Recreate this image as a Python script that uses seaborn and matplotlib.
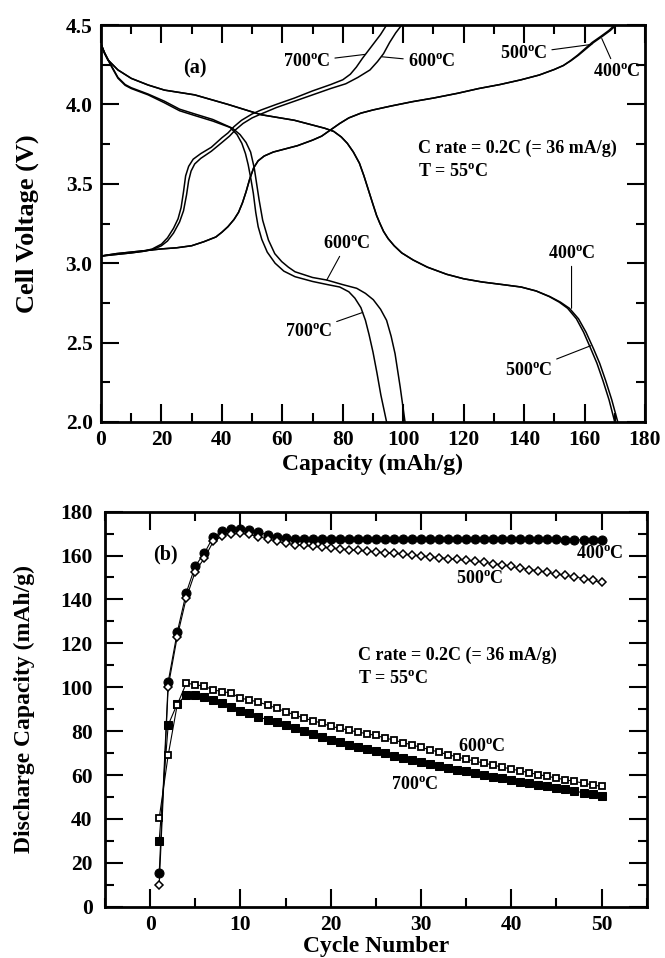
import numpy as np
import pandas as pd
import matplotlib
matplotlib.use('Agg')
import matplotlib.pyplot as plt
import seaborn as sns
from matplotlib.ticker import MultipleLocator, FormatStrFormatter

# ---------------- (a) charge / discharge curves ----------------
chg_700_cap = [0, 5, 10, 14, 17, 20, 22, 24, 25.5, 26.5, 27.3, 28, 29, 30.5, 33, 36.5, 40, 42, 44,
               46.5, 50, 53, 58, 64, 70, 76, 80, 82.5, 84.5, 86.5, 88.5, 90.5, 92.5, 94.5]
chg_700_v = [3.045, 3.055, 3.065, 3.075, 3.09, 3.12, 3.16, 3.22, 3.28, 3.35, 3.45, 3.55, 3.61, 3.655,
             3.69, 3.73, 3.79, 3.82, 3.86, 3.90, 3.94, 3.965, 4.0, 4.04, 4.085, 4.125, 4.155, 4.19,
             4.235, 4.29, 4.34, 4.39, 4.44, 4.5]

chg_600_cap = [0, 5, 10, 14, 17, 20, 22, 24, 26, 27.3, 28.3, 29, 29.8, 31, 33, 36.5, 40, 42.5, 44.5,
               47, 50, 53, 58, 64, 70, 76, 81, 85, 89, 91.5, 93.5, 95.5, 97.5, 99.5]
chg_600_v = [3.045, 3.055, 3.065, 3.075, 3.085, 3.11, 3.14, 3.19, 3.26, 3.33, 3.43, 3.52, 3.58, 3.625,
             3.66, 3.705, 3.76, 3.80, 3.84, 3.88, 3.915, 3.94, 3.98, 4.02, 4.06, 4.10, 4.13, 4.17,
             4.217, 4.27, 4.32, 4.39, 4.45, 4.5]

chg_400_cap = [0, 5, 10, 15, 20, 25, 30, 34, 38, 40, 42, 44, 45.5, 46.8, 48, 49.2, 50.5, 52, 54, 57,
               60, 65, 70, 73, 76, 79, 82, 86, 90, 96, 103, 110, 118, 125, 132, 139, 145, 150, 153,
               155.5, 158, 160.5, 163, 166, 168.5, 170.5]
chg_400_v = [3.045, 3.06, 3.07, 3.08, 3.09, 3.097, 3.11, 3.135, 3.165, 3.195, 3.23, 3.275, 3.32,
             3.38, 3.45, 3.53, 3.60, 3.645, 3.675, 3.70, 3.715, 3.74, 3.775, 3.80, 3.84, 3.88,
             3.915, 3.945, 3.965, 3.99, 4.017, 4.04, 4.07, 4.10, 4.125, 4.155, 4.185, 4.22, 4.245,
             4.275, 4.31, 4.35, 4.39, 4.43, 4.465, 4.5]

chg_500_cap = [0, 5, 10, 15, 20, 25, 30, 34, 38, 40, 42, 44, 45.5, 46.8, 48, 49.2, 50.5, 52, 54, 57,
               60, 65, 70, 73, 76, 79, 82, 86, 90, 96, 103, 110, 118, 125, 132, 139, 145, 150, 153,
               155.3, 157.7, 160.1, 162.5, 165.5, 168, 170.0]
chg_500_v = chg_400_v

dis_700_cap = [0, 1.2, 3.4, 5.6, 8, 10, 15.6, 21, 26, 31, 37, 42.7, 45, 46.6, 47.8, 48.7, 49.6, 50.4,
               51.2, 52, 53.2, 55, 57.6, 60.5, 64.2, 70, 75, 79, 82, 84, 86, 87.5, 88.7, 90, 91.3,
               92.6, 94.5]
dis_700_v = [4.38, 4.32, 4.24, 4.165, 4.12, 4.10, 4.06, 4.01, 3.96, 3.93, 3.895, 3.855, 3.81, 3.755,
             3.69, 3.62, 3.53, 3.44, 3.32, 3.23, 3.15, 3.07, 3.0, 2.95, 2.915, 2.885, 2.865, 2.85,
             2.82, 2.78, 2.72, 2.64, 2.55, 2.44, 2.31, 2.17, 2.0]

dis_600_cap = [0, 1.2, 3.4, 5.6, 8, 10, 15.6, 21, 26, 31, 37, 43.5, 46, 48, 49.5, 50.7, 51.5, 52.3,
               53.5, 55.4, 57.5, 59.8, 62, 64.2, 70, 74.7, 80, 84.6, 87.5, 90.1, 92.5, 94.5, 96,
               97.3, 99, 100.6]
dis_600_v = [4.38, 4.325, 4.245, 4.17, 4.125, 4.105, 4.065, 4.02, 3.97, 3.94, 3.905, 3.85, 3.81,
             3.76, 3.70, 3.60, 3.50, 3.40, 3.27, 3.146, 3.06, 3.01, 2.975, 2.946, 2.91, 2.894,
             2.865, 2.842, 2.81, 2.77, 2.71, 2.64, 2.54, 2.43, 2.22, 2.0]

dis_400_cap = [0, 1, 2.3, 5.6, 10, 15.6, 21, 27.7, 31, 42, 53, 64, 70, 74, 77, 79.5, 81.5, 83.5,
               85.5, 87, 88.5, 90, 91.2, 92.3, 93.5, 95, 97, 99.5, 103.3, 108, 114.4, 120, 126,
               133, 139, 144, 148.5, 152, 155, 158, 160.5, 163, 165, 167, 169, 171]
dis_400_v = [4.38, 4.33, 4.28, 4.217, 4.164, 4.122, 4.09, 4.07, 4.06, 4.0, 3.935, 3.90, 3.87, 3.85,
             3.83, 3.795, 3.755, 3.70, 3.63, 3.55, 3.46, 3.37, 3.30, 3.25, 3.20, 3.155, 3.11,
             3.065, 3.02, 2.975, 2.93, 2.902, 2.882, 2.865, 2.85, 2.825, 2.79, 2.755, 2.716, 2.65,
             2.565, 2.46, 2.37, 2.26, 2.14, 2.0]

dis_500_cap = [0, 1, 2.3, 5.6, 10, 15.6, 21, 27.7, 31, 42, 53, 64, 70, 74, 77, 79.5, 81.5, 83.5,
               85.5, 87, 88.5, 90, 91.2, 92.3, 93.5, 95, 97, 99.5, 103.3, 108, 114.4, 120, 126,
               133, 139, 144, 148.3, 151.6, 154.4, 157.3, 159.7, 162.1, 164.1, 166.1, 168.1, 170]
dis_500_v = dis_400_v

# ---------------- (b) cycling ----------------
cycles = list(range(1, 51))
cap_400 = [15.2, 102.5, 125, 143, 155.3, 161, 168.6, 171, 172, 172, 171.5, 170.5, 169.5, 168.5,
           167.9, 167.6, 167.5, 167.5, 167.6, 167.7, 167.7, 167.7, 167.7, 167.7, 167.7, 167.7,
           167.7, 167.7, 167.7, 167.7, 167.7, 167.6, 167.6, 167.6, 167.6, 167.6, 167.6, 167.6,
           167.5, 167.5, 167.5, 167.4, 167.4, 167.3, 167.3, 167.2, 167.2, 167.1, 167.0, 167.0]
cap_500 = [9.9, 100.3, 123, 140.6, 152.7, 158.8, 166.4, 169, 169.8, 170.2, 169.6, 168.6, 167.6,
           166.5, 165.6, 165.0, 164.6, 164.2, 163.8, 163.4, 163.0, 162.7, 162.3, 162.0, 161.6,
           161.3, 161.0, 160.6, 160.2, 159.8, 159.4, 159.0, 158.6, 158.2, 157.8, 157.4, 157.0,
           156.2, 155.8, 155.0, 154.3, 153.6, 153.0, 152.3, 151.6, 151.0, 150.3, 149.5, 148.7,
           147.8]
cap_600 = [40.3, 69.1, 92, 101.8, 101.2, 100.4, 98.8, 98, 97.3, 95, 94.2, 93.2, 91.9, 90.4, 88.9,
           87.4, 85.9, 84.8, 83.6, 82.2, 81.3, 80.4, 79.6, 78.8, 78.0, 76.9, 75.9, 74.8, 73.7,
           72.6, 71.5, 70.4, 69.3, 68.2, 67.2, 66.3, 65.4, 64.5, 63.6, 62.7, 61.9, 61.0, 60.2,
           59.4, 58.6, 57.8, 57.1, 56.3, 55.5, 54.8]
cap_700 = [30.1, 82.8, 92.4, 96.5, 96.6, 95.7, 94.2, 92.7, 90.9, 89.3, 88.1, 86.6, 85.1, 84.0,
           82.8, 81.4, 80.1, 78.8, 77.4, 76.0, 74.9, 73.8, 72.8, 71.8, 70.8, 69.8, 68.8, 67.9,
           67.0, 66.1, 65.2, 64.3, 63.4, 62.5, 61.7, 60.9, 60.1, 59.3, 58.5, 57.7, 56.9, 56.2,
           55.5, 54.8, 54.1, 53.4, 52.7, 51.9, 51.2, 50.4]

# ---------------- style ----------------
sns.set_theme(style='ticks')
plt.rcParams.update({
    'font.family': ['Liberation Serif', 'DejaVu Serif'],
    'font.weight': 'bold',
    'axes.labelweight': 'bold',
    'mathtext.fontset': 'custom',
    'mathtext.rm': 'Liberation Serif:bold',
    'mathtext.bf': 'Liberation Serif:bold',
    'mathtext.it': 'Liberation Serif:bold:italic',
    'axes.edgecolor': 'black',
    'axes.linewidth': 2.0,
    'xtick.color': 'black', 'ytick.color': 'black',
    'text.color': 'black', 'axes.labelcolor': 'black',
    'axes.facecolor': 'white', 'figure.facecolor': 'white',
})

DEG = r'$^{\mathrm{o}}$'

fig = plt.figure(figsize=(6.65, 9.58), dpi=100)
ax1 = fig.add_axes([0.1519, 0.5595, 0.818, 0.4144])
ax2 = fig.add_axes([0.1579, 0.05355, 0.8146, 0.4124])

curves = [
    ('chg700', chg_700_cap, chg_700_v), ('chg600', chg_600_cap, chg_600_v),
    ('chg400', chg_400_cap, chg_400_v), ('chg500', chg_500_cap, chg_500_v),
    ('dis700', dis_700_cap, dis_700_v), ('dis600', dis_600_cap, dis_600_v),
    ('dis400', dis_400_cap, dis_400_v), ('dis500', dis_500_cap, dis_500_v),
]
frames = [pd.DataFrame({'cap': c, 'volt': v, 'curve': n}) for n, c, v in curves]
df_a = pd.concat(frames, ignore_index=True)
sns.lineplot(data=df_a, x='cap', y='volt', units='curve', estimator=None, sort=False,
             color='black', lw=1.1, ax=ax1, legend=False)

ax1.set_xlim(0, 180)
ax1.set_ylim(2.0, 4.5)
ax1.xaxis.set_major_locator(MultipleLocator(20))
ax1.xaxis.set_minor_locator(MultipleLocator(10))
ax1.yaxis.set_major_locator(MultipleLocator(0.5))
ax1.yaxis.set_minor_locator(MultipleLocator(0.25))
ax1.yaxis.set_major_formatter(FormatStrFormatter('%.1f'))
ax1.set_xlabel('Capacity (mAh/g)', fontsize=17)
ax1.set_ylabel('Cell Voltage (V)', fontsize=19)

afs = 13
ax1.text(31.1, 4.227, '(a)', fontsize=14.5, ha='center', va='center')
lead = dict(arrowstyle='-', lw=0.8, color='black', shrinkA=1, shrinkB=0)
ax1.annotate('700' + DEG + 'C', xy=(87.4, 4.315), xytext=(68, 4.27), fontsize=afs,
             ha='center', va='center', arrowprops=lead)
ax1.annotate('600' + DEG + 'C', xy=(92.9, 4.30), xytext=(109.4, 4.27), fontsize=afs,
             ha='center', va='center', arrowprops=lead)
ax1.annotate('500' + DEG + 'C', xy=(162.4, 4.378), xytext=(139.8, 4.32), fontsize=afs,
             ha='center', va='center', arrowprops=lead)
ax1.annotate('400' + DEG + 'C', xy=(165.7, 4.415), xytext=(170.6, 4.206), fontsize=afs,
             ha='center', va='center', arrowprops=lead)
ax1.annotate('600' + DEG + 'C', xy=(74.7, 2.894), xytext=(81.3, 3.125), fontsize=afs,
             ha='center', va='center', arrowprops=lead)
ax1.annotate('700' + DEG + 'C', xy=(86.6, 2.69), xytext=(68.6, 2.57), fontsize=afs,
             ha='center', va='center', arrowprops=lead)
ax1.annotate('400' + DEG + 'C', xy=(155.7, 2.716), xytext=(155.7, 3.063), fontsize=afs,
             ha='center', va='center', arrowprops=lead)
ax1.annotate('500' + DEG + 'C', xy=(162.0, 2.48), xytext=(141.4, 2.327), fontsize=afs,
             ha='center', va='center', arrowprops=lead)
ax1.text(105, 3.724, 'C rate = 0.2C (= 36 mA/g)', fontsize=afs, ha='left', va='center')
ax1.text(105, 3.576, 'T = 55' + DEG + 'C', fontsize=afs, ha='left', va='center')

# ---------------- (b) ----------------
df_b = pd.DataFrame({'cycle': cycles, 'c400': cap_400, 'c500': cap_500,
                     'c600': cap_600, 'c700': cap_700})
sns.lineplot(data=df_b, x='cycle', y='c400', ax=ax2, color='black', lw=0.8, marker='o',
             markersize=6.5, markerfacecolor='black', markeredgecolor='black')
sns.lineplot(data=df_b, x='cycle', y='c500', ax=ax2, color='black', lw=0.8, marker='D',
             markersize=4.2, markerfacecolor='white', markeredgecolor='black', markeredgewidth=1.1)
sns.lineplot(data=df_b, x='cycle', y='c700', ax=ax2, color='black', lw=0.8, marker='s',
             markersize=5.2, markerfacecolor='black', markeredgecolor='black')
sns.lineplot(data=df_b, x='cycle', y='c600', ax=ax2, color='black', lw=0.8, marker='s',
             markersize=4.6, markerfacecolor='white', markeredgecolor='black', markeredgewidth=1.3)

ax2.set_xlim(-5, 55)
ax2.set_ylim(0, 180)
ax2.xaxis.set_major_locator(MultipleLocator(10))
ax2.xaxis.set_minor_locator(MultipleLocator(5))
ax2.yaxis.set_major_locator(MultipleLocator(20))
ax2.yaxis.set_minor_locator(MultipleLocator(10))
ax2.set_xlabel('Cycle Number', fontsize=17)
ax2.set_ylabel('Discharge Capacity (mAh/g)', fontsize=17)

ax2.text(1.7, 160.3, '(b)', fontsize=14.5, ha='center', va='center')
ax2.text(49.8, 161, '400' + DEG + 'C', fontsize=afs, ha='center', va='center')
ax2.text(36.5, 149.7, '500' + DEG + 'C', fontsize=afs, ha='center', va='center')
ax2.text(36.7, 72.9, '600' + DEG + 'C', fontsize=afs, ha='center', va='center')
ax2.text(29.3, 55.5, '700' + DEG + 'C', fontsize=afs, ha='center', va='center')
ax2.text(23, 114.7, 'C rate = 0.2C (= 36 mA/g)', fontsize=afs, ha='left', va='center')
ax2.text(23, 104, 'T = 55' + DEG + 'C', fontsize=afs, ha='left', va='center')

for ax in (ax1, ax2):
    ax.tick_params(which='both', direction='in', top=True, right=True, width=1.5,
                   labelsize=15.5, pad=6, color='black')
    ax.tick_params(which='major', length=13)
    ax.tick_params(which='minor', length=6.5)
    for s in ax.spines.values():
        s.set_visible(True)
        s.set_linewidth(2.0)
        s.set_color('black')
    ax.grid(False)

ax1.xaxis.set_label_coords(0.5, -0.121)
ax1.xaxis.label.set_va('baseline')
ax1.yaxis.set_label_coords(-0.136, 0.5)
ax1.yaxis.label.set_va('center')
ax2.xaxis.set_label_coords(0.5, -0.114)
ax2.xaxis.label.set_va('baseline')
ax2.yaxis.set_label_coords(-0.148, 0.5)
ax2.yaxis.label.set_va('center')
ax2.tick_params(axis='y', pad=9)

fig.savefig('out.png', dpi=100)
